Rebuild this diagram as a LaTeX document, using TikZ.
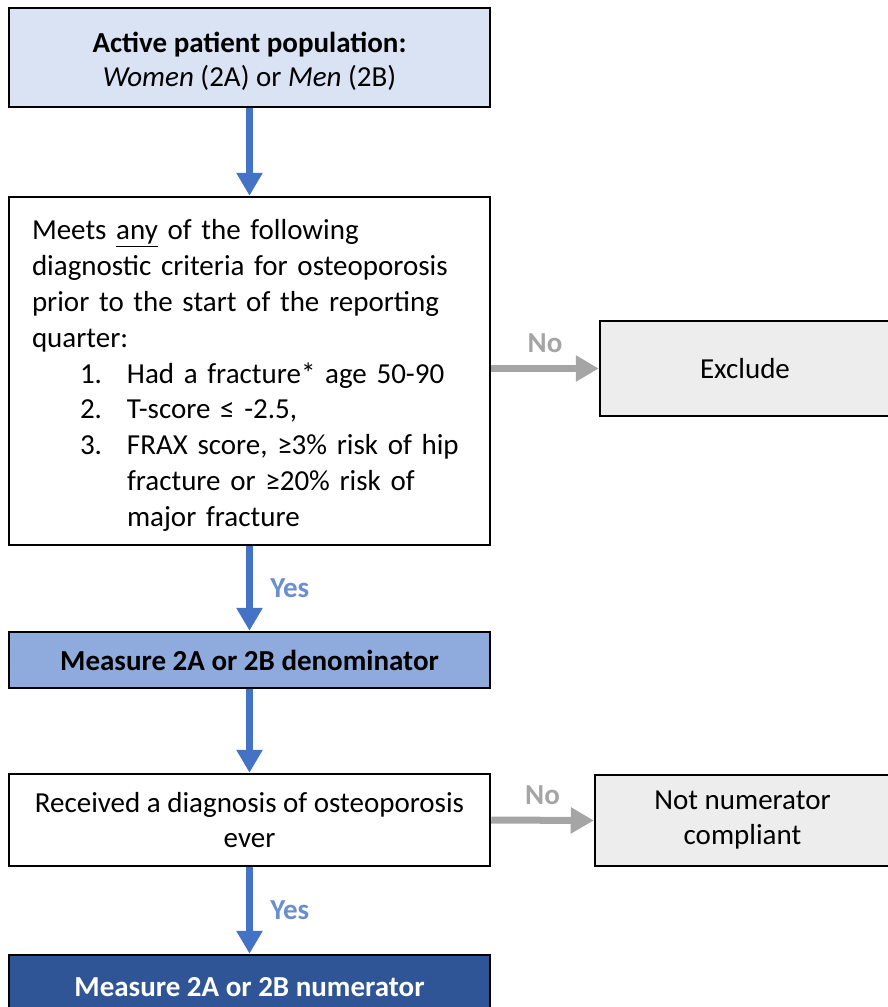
\documentclass[tikz,border=0pt]{standalone}
\usepackage{fontspec}
\setmainfont{Carlito}
\usetikzlibrary{arrows.meta}
\definecolor{popfill}{HTML}{DAE3F3}
\definecolor{denfill}{HTML}{8FAADC}
\definecolor{numfill}{HTML}{2F5597}
\definecolor{outfill}{HTML}{EDEDED}
\definecolor{flowblue}{HTML}{4472C4}
\definecolor{yesblue}{HTML}{6A8FCC}
\definecolor{nogray}{HTML}{A5A5A5}
\begin{document}
\begin{tikzpicture}[
        x=1pt, y=-1pt,
        box/.style={draw=black, line width=2.5pt, rectangle, align=center,
            font=\fontsize{29}{35}\selectfont, inner sep=0pt},
        down/.style={draw=flowblue, line width=7pt, -{Triangle[width=25pt,length=23pt]}},
        side/.style={draw=nogray, line width=7pt, -{Triangle[width=25pt,length=23pt]}},
        yeslbl/.style={text=yesblue, font=\fontsize{29}{34}\selectfont\bfseries},
        nolbl/.style={text=nogray, font=\fontsize{29}{34}\selectfont\bfseries},
    ]
    \useasboundingbox (0,0) rectangle (887,1007);

    \node[box, fill=popfill, minimum width=481pt, minimum height=99pt] (pop) at (249.5,57.5)
        {\rule{0pt}{29pt}\textbf{Active patient population:}\\[-1pt]\textit{Women} (2A) or \textit{Men} (2B)};

    \node[box, fill=white, minimum width=481pt, minimum height=348pt,
        text width=435pt, align=left, font=\fontsize{29}{35.8}\selectfont] (crit) at (249.5,371)
        {\rule{0pt}{29pt}Meets \underline{any} of the following\\
         diagnostic criteria for osteoporosis\\
         prior to the start of the reporting\\
         quarter:\\
         \hspace*{48pt}\makebox[47pt][l]{1.}Had a fracture* age 50-90\\
         \hspace*{48pt}\makebox[47pt][l]{2.}T-score ≤ -2.5,\\
         \hspace*{48pt}\makebox[47pt][l]{3.}FRAX score, ≥3\% risk of hip\\
         \hspace*{95pt}fracture or ≥20\% risk of\\
         \hspace*{95pt}major fracture};

    \node[box, fill=outfill, minimum width=290pt, minimum height=95pt] (excl) at (745,368.5) {Exclude};

    \node[box, fill=denfill, minimum width=481pt, minimum height=56pt] (den) at (249.5,660)
        {\textbf{Measure 2A or 2B denominator}};

    \node[box, fill=white, minimum width=481pt, minimum height=92pt] (diag) at (249.5,820)
        {Received a diagnosis of osteoporosis\\ever};

    \node[box, fill=outfill, minimum width=295pt, minimum height=91pt] (notnum) at (742.5,820.5)
        {Not numerator\\compliant};

    \node[box, fill=numfill, text=white, minimum width=481pt, minimum height=64pt] (num) at (249.5,987)
        {\textbf{Measure 2A or 2B numerator}};

    \draw[down] (pop.south) -- (crit.north);
    \draw[side] (crit.east |- excl.west) -- (excl.west) node[nolbl, midway, above=9pt] (no1) {No};
    \draw[down] (crit.south) -- (den.north) node[yeslbl, midway, right=14pt] (yes1) {Yes};
    \draw[down] (den.south) -- (diag.north);
    \draw[side] (diag.east) -- (notnum.west) node[nolbl, midway, above=9pt] (no2) {No};
    \draw[down] (diag.south) -- (num.north) node[yeslbl, midway, right=14pt] (yes2) {Yes};

\end{tikzpicture}
\end{document}
